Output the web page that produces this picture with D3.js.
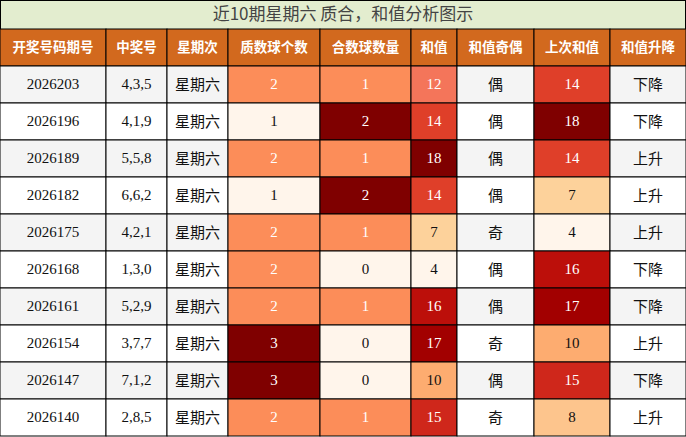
<!DOCTYPE html>
<html><head><meta charset="utf-8">
<script src="https://cdn.jsdelivr.net/npm/d3@7"></script>
<style>body{margin:0;background:#fff}</style>
</head><body><div id="chart"></div>
<script>
const title = "近10期星期六 质合，和值分析图示";
const headers = ["开奖号码期号","中奖号","星期次","质数球个数","合数球数量","和值","和值奇偶","上次和值","和值升降"];
const issues = ["2026203","2026196","2026189","2026182","2026175","2026168","2026161","2026154","2026147","2026140"];
const numbers = ["4,3,5","4,1,9","5,5,8","6,6,2","4,2,1","1,3,0","5,2,9","3,7,7","7,1,2","2,8,5"];
const weekday = "星期六";
const primeCount = [2,1,2,1,2,2,2,3,3,2];
const compCount = [1,2,1,2,1,0,1,0,0,1];
const sums = [12,14,18,14,7,4,16,17,10,15];
const parity = ["偶","偶","偶","偶","奇","偶","偶","奇","偶","奇"];
const prevSums = [14,18,14,7,4,16,17,10,15,8];
const trend = ["下降","下降","上升","上升","上升","下降","下降","上升","下降","上升"];

const W = 686, H = 437, titleH = 29, headH = 37;
const colEdges = [0,106,167,228,320,411,457,534,610,686];
const svg = d3.select("#chart").append("svg").attr("width", W).attr("height", H);

const stops = [0,0.2,0.43,0.5,0.57,0.71,0.8,0.9,1];
const cols = ["#fff5eb","#fdd49e","#fdac70","#fc8d59","#f4765a","#e0402a","#cc2218","#b00000","#7f0000"];
const heat = d3.scaleLinear().domain(stops).range(cols).interpolate(d3.interpolateRgb);
const tPrime = d3.scaleLinear().domain([1,3]);
const tComp = d3.scaleLinear().domain([0,2]);
const tSum = d3.scaleLinear().domain([4,18]);

const y = d3.scaleBand().domain(d3.range(10)).range([titleH + headH, H - 1]);
const font = "'Liberation Serif','Noto Sans CJK SC',serif";

// title
svg.append("rect").attr("x",0.5).attr("y",0.5).attr("width",W-1).attr("height",titleH)
  .attr("fill","#e3edcf").attr("stroke","#000");
svg.append("text").attr("x",W/2).attr("y",titleH/2+1).attr("text-anchor","middle")
  .attr("dominant-baseline","middle").attr("fill","#444").style("font-size","17px")
  .style("font-family","'Noto Sans CJK SC',sans-serif").text(title);

// header
headers.forEach((h,i) => {
  svg.append("rect").attr("x",colEdges[i]).attr("y",titleH).attr("width",colEdges[i+1]-colEdges[i])
    .attr("height",headH).attr("fill","#d2691e").attr("stroke","#000");
  svg.append("text").attr("x",(colEdges[i]+colEdges[i+1])/2).attr("y",titleH+headH/2+1)
    .attr("text-anchor","middle").attr("dominant-baseline","middle").attr("fill","#fff")
    .style("font-weight","bold").style("font-size","13.5px")
    .style("font-family","'Noto Sans CJK SC',sans-serif").text(h);
});

issues.forEach((iss,r) => {
  const rowBg = r % 2 === 0 ? "#f4f4f4" : "#ffffff";
  const cells = [
    {v: iss}, {v: numbers[r]}, {v: weekday},
    {v: primeCount[r], t: tPrime(primeCount[r])},
    {v: compCount[r], t: tComp(compCount[r])},
    {v: sums[r], t: tSum(sums[r])},
    {v: parity[r]},
    {v: prevSums[r], t: tSum(prevSums[r])},
    {v: trend[r]}
  ];
  cells.forEach((c,i) => {
    const fill = c.t === undefined ? rowBg : heat(c.t);
    svg.append("rect").attr("x",colEdges[i]).attr("y",y(r)).attr("width",colEdges[i+1]-colEdges[i])
      .attr("height",y.bandwidth()).attr("fill",fill).attr("stroke","#000");
    const cjk = typeof c.v === "string" && /[\u4e00-\u9fff]/.test(c.v);
    svg.append("text").attr("x",(colEdges[i]+colEdges[i+1])/2).attr("y",y(r)+y.bandwidth()/2+1)
      .attr("text-anchor","middle").attr("dominant-baseline","middle")
      .attr("fill", c.t !== undefined && c.t >= 0.5 ? "#fff" : "#111")
      .style("font-size", cjk ? "15px" : "15px")
      .style("font-family", cjk ? "'Noto Sans CJK SC',sans-serif" : font)
      .text(c.v);
  });
});
</script></body></html>
